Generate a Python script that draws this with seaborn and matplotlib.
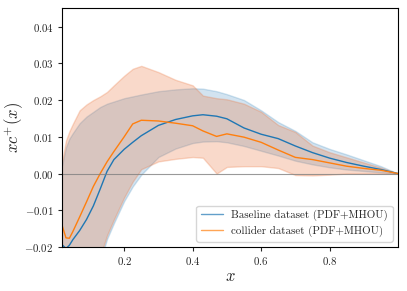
import matplotlib
matplotlib.use("Agg")
import matplotlib.pyplot as plt
import seaborn as sns
import pandas as pd

sns.set_theme(style="ticks")
plt.rcParams["font.family"] = "serif"
plt.rcParams["font.serif"] = ["cmr10"]
plt.rcParams["mathtext.fontset"] = "cm"
plt.rcParams["axes.formatter.use_mathtext"] = True

# x grid and curves
x = [0.018, 0.03, 0.04, 0.05, 0.07, 0.09, 0.11, 0.13, 0.15, 0.17, 0.2, 0.225,
     0.25, 0.3, 0.35, 0.4, 0.43, 0.47, 0.5, 0.55, 0.6, 0.65, 0.7, 0.75, 0.8,
     0.85, 0.9, 0.95, 1.0]

baseline_cv = [-0.0193, -0.0204, -0.0195, -0.0180, -0.0155, -0.0125, -0.0088,
               -0.0042, 0.0006, 0.0038, 0.0066, 0.0085, 0.0103, 0.0131, 0.0147,
               0.0157, 0.0160, 0.0156, 0.0149, 0.0124, 0.0107, 0.0095, 0.0075,
               0.0057, 0.0042, 0.0030, 0.0020, 0.0011, 0.0]
baseline_up = [0.0020, 0.0072, 0.0095, 0.0110, 0.0137, 0.0155, 0.0168, 0.0181,
               0.0190, 0.0196, 0.0205, 0.0210, 0.0215, 0.0224, 0.0229, 0.0232,
               0.0231, 0.0224, 0.0216, 0.0200, 0.0172, 0.0140, 0.0116, 0.0085,
               0.0067, 0.0052, 0.0036, 0.0020, 0.0]
baseline_lo = [-0.050, -0.050, -0.049, -0.047, -0.042, -0.036, -0.030, -0.024,
               -0.0178, -0.0135, -0.0075, -0.0035, -0.0003, 0.0045, 0.0068,
               0.0083, 0.0087, 0.0088, 0.0085, 0.0075, 0.0062, 0.0049, 0.0035,
               0.0025, 0.0017, 0.0011, 0.0007, 0.0003, 0.0]

collider_cv = [-0.0139, -0.0175, -0.0176, -0.0158, -0.0118, -0.0077, -0.0035,
               0.0000, 0.0032, 0.0060, 0.0100, 0.0135, 0.0145, 0.0143, 0.0137,
               0.0130, 0.0116, 0.0101, 0.0108, 0.0099, 0.0085, 0.0064, 0.0044,
               0.0038, 0.0029, 0.0020, 0.0014, 0.0009, 0.0]
collider_up = [0.0030, 0.0090, 0.0115, 0.0135, 0.0172, 0.0188, 0.0200, 0.0210,
               0.0222, 0.0240, 0.0266, 0.0285, 0.0293, 0.0276, 0.0255, 0.0240,
               0.0212, 0.0205, 0.0202, 0.0190, 0.0168, 0.0132, 0.0113, 0.0076,
               0.0058, 0.0044, 0.0030, 0.0016, 0.0]
collider_lo = [-0.045, -0.045, -0.044, -0.042, -0.037, -0.032, -0.027, -0.0225,
               -0.0168, -0.0125, -0.0065, -0.0022, 0.0012, 0.0033, 0.0040,
               0.0045, 0.0043, 0.0000, 0.0018, 0.0020, 0.0020, 0.0015, -0.0004,
               -0.0005, -0.0003, 0.0, 0.0, 0.0, 0.0]

labels = ["Baseline dataset (PDF+MHOU)", "collider dataset (PDF+MHOU)"]

df = pd.concat([
    pd.DataFrame({"x": x, "y": baseline_cv, "fit": labels[0]}),
    pd.DataFrame({"x": x, "y": collider_cv, "fit": labels[1]}),
])

fig = plt.figure(figsize=(4.07, 2.91), dpi=100)
ax = fig.add_axes([0.152, 0.151, 0.826, 0.821])

colors = ["#1f77b4", "#ff7f0e"]
ax.fill_between(x, baseline_lo, baseline_up, color=colors[0], alpha=0.2)
ax.fill_between(x, collider_lo, collider_up, color="#eb763e", alpha=0.27)
sns.lineplot(data=df, x="x", y="y", hue="fit", palette=colors, lw=1.0,
             ax=ax, sort=False)
ax.axhline(0, color="gray", lw=0.8, alpha=0.8)

ax.set_xlim(0.018, 1.0)
ax.set_ylim(-0.02, 0.045)
ax.set_xticks([0.2, 0.4, 0.6, 0.8])
ax.set_yticks([-0.02, -0.01, 0.0, 0.01, 0.02, 0.03, 0.04])
ax.tick_params(labelsize=7.8, length=3, width=0.8, pad=3)
ax.set_xlabel("$x$", fontsize=12)
ax.set_ylabel("$xc^{+}(x)$", fontsize=12)
ax.xaxis.set_label_coords(0.5, -0.092)
ax.yaxis.set_label_coords(-0.110, 0.5)
for s in ax.spines.values():
    s.set_linewidth(0.8)
    s.set_color("black")

leg = ax.legend(loc="lower right", fontsize=7.9, title=None, framealpha=0.8,
                labelspacing=0.4)
for h in leg.get_lines():
    h.set_alpha(0.7)

fig.savefig("out.png", dpi=100)
